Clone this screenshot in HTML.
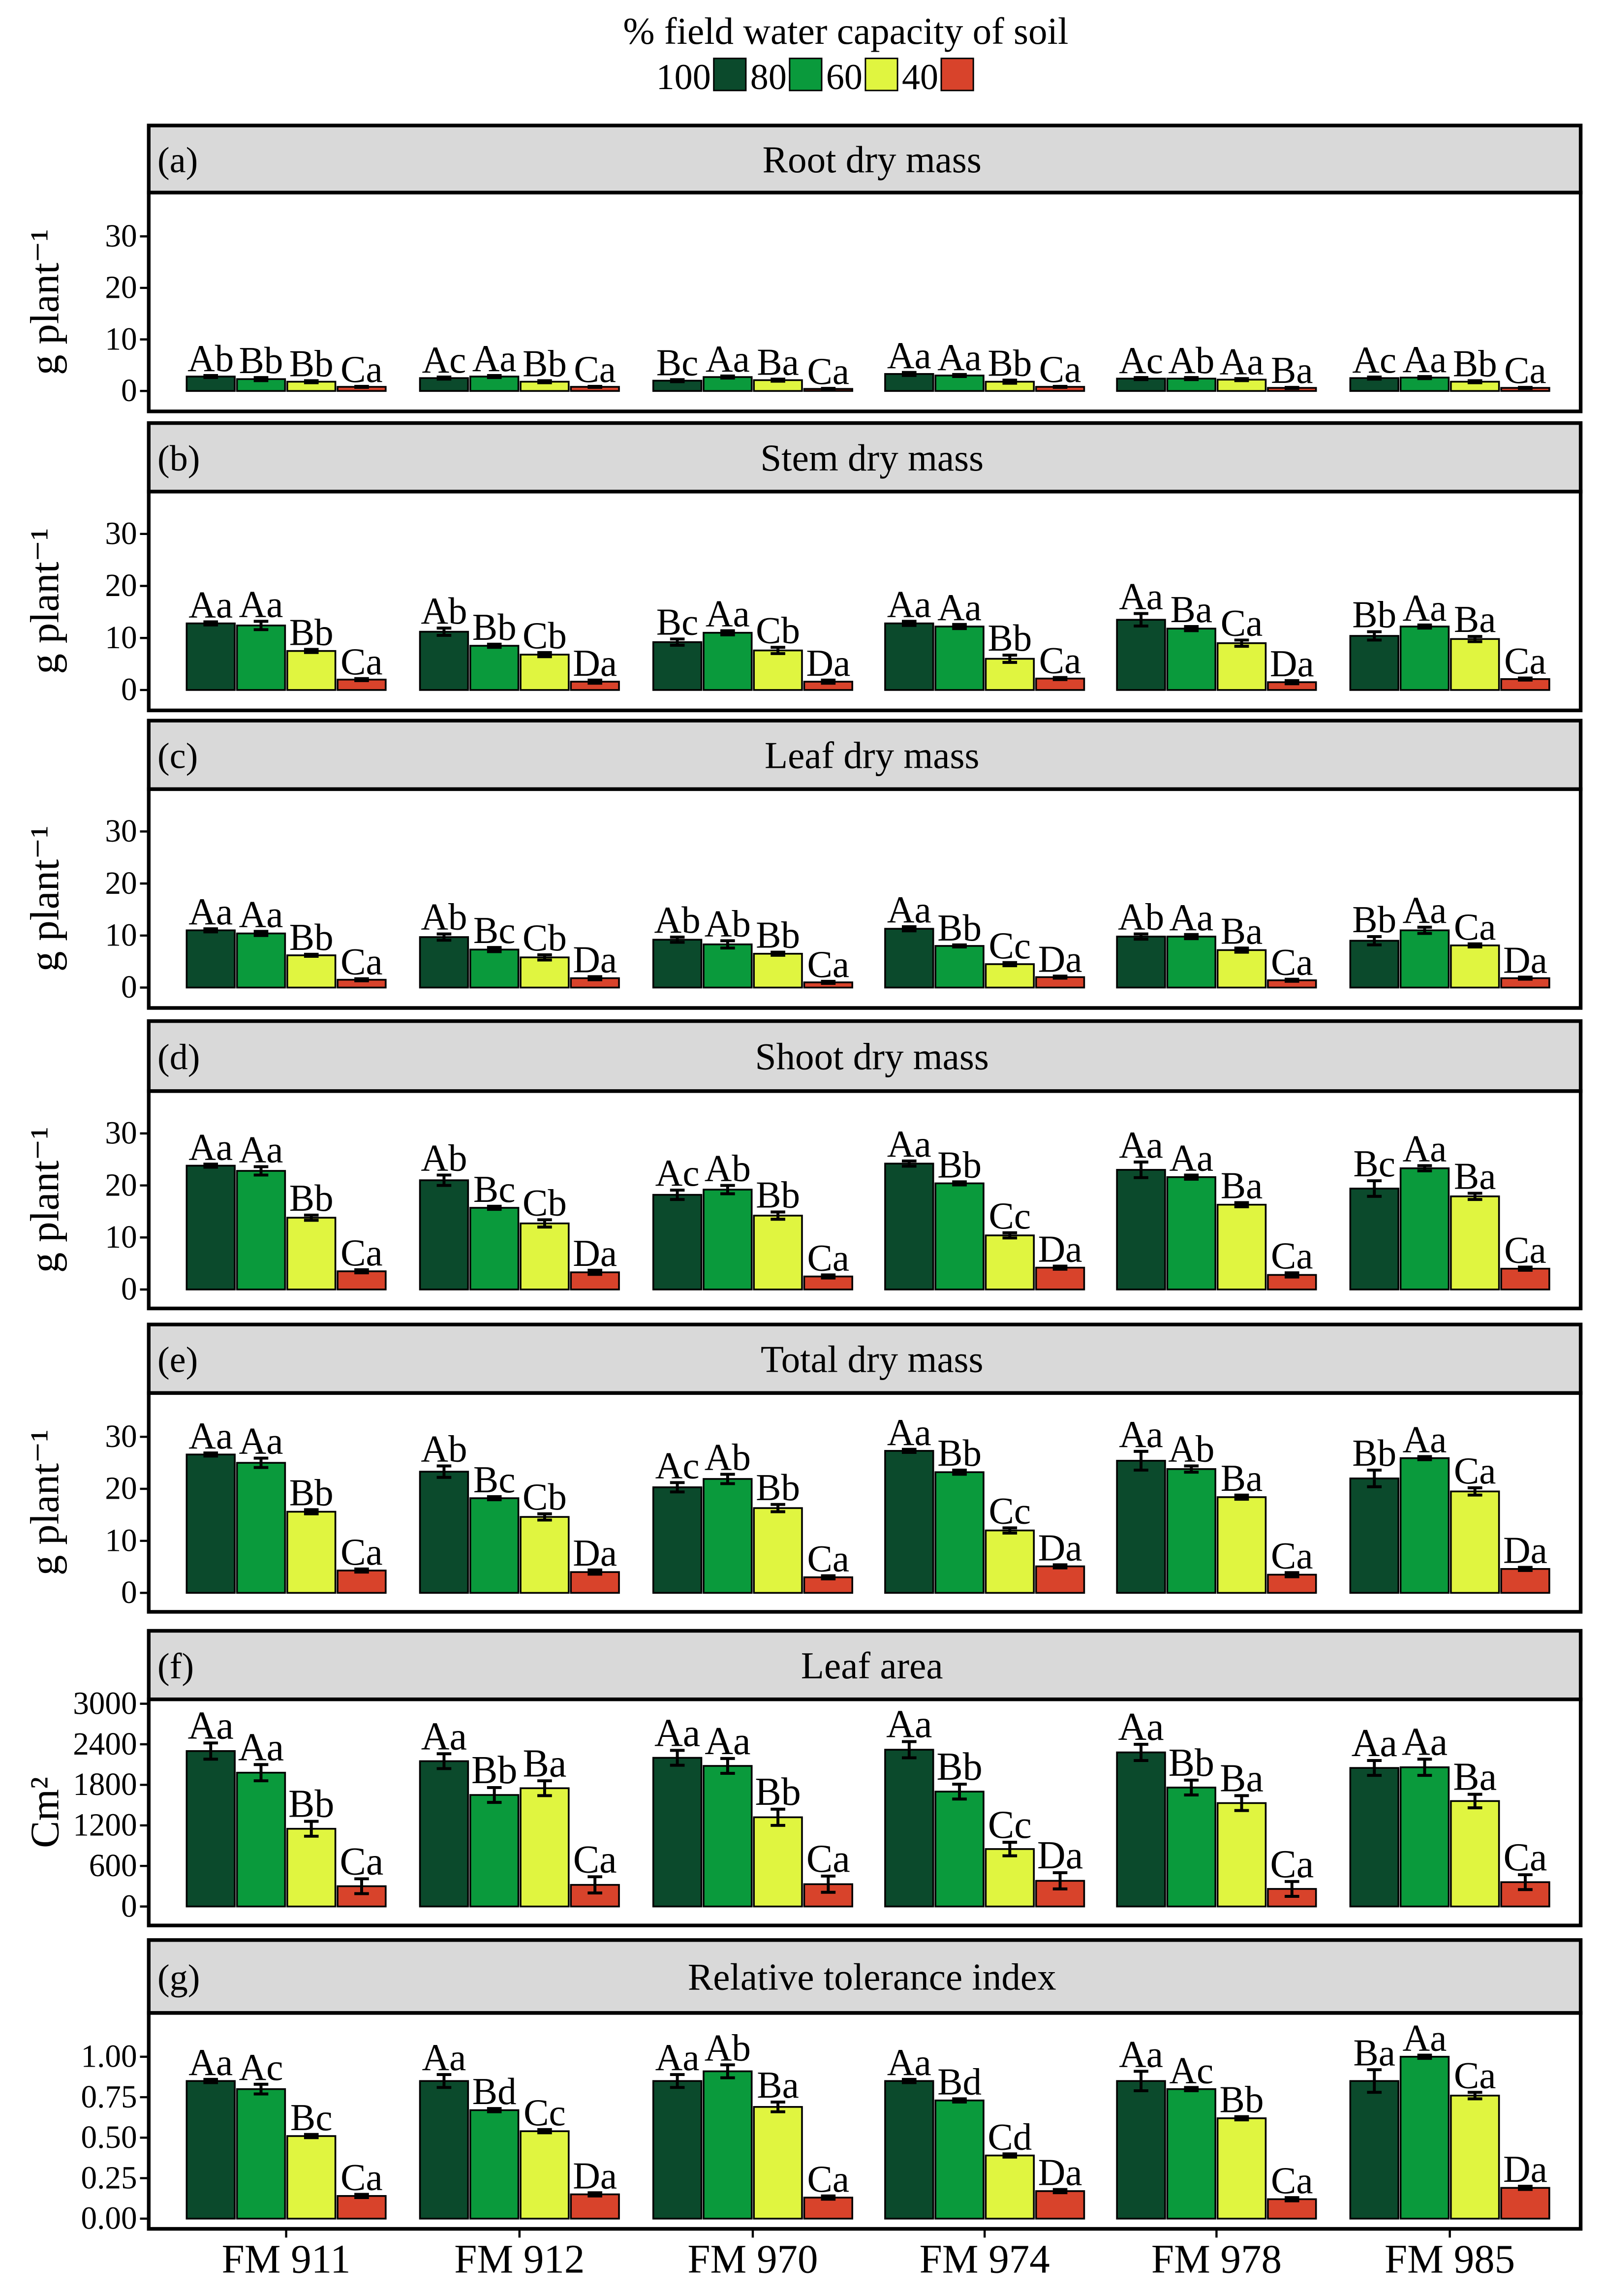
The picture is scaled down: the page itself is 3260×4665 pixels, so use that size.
<!DOCTYPE html>
<html><head><meta charset="utf-8"><style>
html,body{margin:0;padding:0;background:#fff;}
svg{display:block;font-family:"Liberation Serif","DejaVu Serif",serif;}
</style></head><body>
<svg id="chart" xmlns="http://www.w3.org/2000/svg" width="3260" height="4665" viewBox="0 0 1100 1574">
<rect x="0" y="0" width="1100" height="1574" fill="#fff"/>
<g id="legend">
<text x="580" y="30" font-size="26" text-anchor="middle">% field water capacity of soil</text>
</g>
<g id="plots"></g>
</svg>
<script>
const categories = ["FM 911","FM 912","FM 970","FM 974","FM 978","FM 985"];
const treatments = ["100","80","60","40"];
const colors = ["#0b4a2c","#0a9a3c","#e0f540","#d8432b"];
const panelTitles = ["Root dry mass","Stem dry mass","Leaf dry mass","Shoot dry mass","Total dry mass","Leaf area","Relative tolerance index"];
const panelTags = ["(a)","(b)","(c)","(d)","(e)","(f)","(g)"];
const rootVals = [[2.8,2.3,1.8,0.8],[2.5,2.8,1.8,0.8],[2.0,2.7,2.1,0.4],[3.3,3.0,1.8,0.8],[2.4,2.4,2.2,0.6],[2.5,2.6,1.8,0.6]];
const rootErr = [[0.2,0.3,0.2,0.1],[0.2,0.2,0.2,0.1],[0.2,0.2,0.2,0.1],[0.3,0.2,0.3,0.1],[0.2,0.2,0.2,0.1],[0.2,0.2,0.2,0.1]];
const rootLbl = [["Ab","Bb","Bb","Ca"],["Ac","Aa","Bb","Ca"],["Bc","Aa","Ba","Ca"],["Aa","Aa","Bb","Ca"],["Ac","Ab","Aa","Ba"],["Ac","Aa","Bb","Ca"]];
const stemVals = [[12.8,12.4,7.5,2.0],[11.2,8.5,6.8,1.6],[9.2,11.0,7.6,1.6],[12.8,12.2,6.0,2.2],[13.5,11.8,9.0,1.5],[10.4,12.2,9.8,2.1]];
const stemErr = [[0.3,0.8,0.3,0.2],[0.7,0.3,0.4,0.3],[0.6,0.4,0.6,0.3],[0.4,0.4,0.7,0.2],[1.2,0.4,0.6,0.3],[0.8,0.3,0.5,0.2]];
const stemLbl = [["Aa","Aa","Bb","Ca"],["Ab","Bb","Cb","Da"],["Bc","Aa","Cb","Da"],["Aa","Aa","Bb","Ca"],["Aa","Ba","Ca","Da"],["Bb","Aa","Ba","Ca"]];
const leafVals = [[11.0,10.4,6.2,1.5],[9.7,7.3,5.8,1.8],[9.2,8.3,6.5,1.0],[11.3,8.0,4.5,2.0],[9.8,9.8,7.2,1.4],[9.0,11.0,8.1,1.8]];
const leafErr = [[0.3,0.4,0.2,0.2],[0.6,0.4,0.5,0.3],[0.5,0.7,0.3,0.2],[0.4,0.2,0.3,0.2],[0.5,0.4,0.4,0.2],[0.8,0.6,0.3,0.2]];
const leafLbl = [["Aa","Aa","Bb","Ca"],["Ab","Bc","Cb","Da"],["Ab","Ab","Bb","Ca"],["Aa","Bb","Cc","Da"],["Ab","Aa","Ba","Ca"],["Bb","Aa","Ca","Da"]];
const shootVals = [[23.8,22.8,13.8,3.5],[21.0,15.7,12.7,3.3],[18.2,19.2,14.2,2.5],[24.2,20.4,10.4,4.2],[23.0,21.6,16.3,2.8],[19.4,23.3,17.9,4.0]];
const shootErr = [[0.3,0.8,0.5,0.3],[1.0,0.3,0.7,0.4],[0.9,0.8,0.7,0.3],[0.5,0.3,0.5,0.3],[1.5,0.4,0.4,0.4],[1.5,0.5,0.6,0.3]];
const shootLbl = [["Aa","Aa","Bb","Ca"],["Ab","Bc","Cb","Da"],["Ac","Ab","Bb","Ca"],["Aa","Bb","Cc","Da"],["Aa","Aa","Ba","Ca"],["Bc","Aa","Ba","Ca"]];
const totalVals = [[26.6,25.0,15.6,4.3],[23.3,18.2,14.6,4.0],[20.3,21.9,16.3,3.0],[27.3,23.2,12.0,5.1],[25.4,23.8,18.4,3.5],[22.0,25.9,19.5,4.6]];
const totalErr = [[0.3,0.9,0.4,0.3],[1.1,0.3,0.6,0.4],[0.9,0.9,0.7,0.3],[0.3,0.4,0.5,0.3],[1.8,0.6,0.4,0.4],[1.6,0.3,0.7,0.3]];
const totalLbl = [["Aa","Aa","Bb","Ca"],["Ab","Bc","Cb","Da"],["Ac","Ab","Bb","Ca"],["Aa","Bb","Cc","Da"],["Aa","Ab","Ba","Ca"],["Bb","Aa","Ca","Da"]];
const areaVals = [[2300,1980,1150,300],[2150,1650,1750,320],[2200,2080,1320,330],[2320,1700,850,380],[2280,1760,1530,260],[2050,2060,1560,360]];
const areaErr = [[120,120,110,110],[110,110,110,120],[110,110,120,120],[120,110,100,120],[120,110,110,110],[110,120,100,110]];
const areaLbl = [["Aa","Aa","Bb","Ca"],["Aa","Bb","Ba","Ca"],["Aa","Aa","Bb","Ca"],["Aa","Bb","Cc","Da"],["Aa","Bb","Ba","Ca"],["Aa","Aa","Ba","Ca"]];
const rtiVals = [[0.85,0.80,0.51,0.14],[0.85,0.67,0.54,0.15],[0.85,0.91,0.69,0.13],[0.85,0.73,0.39,0.17],[0.85,0.80,0.62,0.12],[0.85,1.00,0.76,0.19]];
const rtiErr = [[0.01,0.03,0.01,0.01],[0.04,0.01,0.01,0.01],[0.04,0.04,0.03,0.01],[0.01,0.01,0.01,0.01],[0.06,0.01,0.01,0.01],[0.07,0.01,0.02,0.01]];
const rtiLbl = [["Aa","Ac","Bc","Ca"],["Aa","Bd","Cc","Da"],["Aa","Ab","Ba","Ca"],["Aa","Bd","Cd","Da"],["Aa","Ac","Bb","Ca"],["Ba","Aa","Ca","Da"]];
const massTicks = [0,10,20,30];
const areaTicks = [0,600,1200,1800,2400,3000];
const rtiTicks = [0,0.25,0.5,0.75,1.0];
const rtiTickLabels = ["0.00","0.25","0.50","0.75","1.00"];

const NS = "http://www.w3.org/2000/svg";
function mk(tag, attrs, parent){const e=document.createElementNS(NS,tag);for(const k in attrs)e.setAttribute(k,attrs[k]);parent.appendChild(e);return e;}
const plots=document.getElementById('plots');
const legend=document.getElementById('legend');

let lx=450;
for(let i=0;i<4;i++){
  const t=mk('text',{x:lx,y:61,'font-size':25},legend);t.textContent=treatments[i];
  
  
  const w=treatments[i].length*12.5;
  const r=mk('rect',{x:lx+w+2,y:40,width:22,height:22,fill:colors[i],stroke:'#000','stroke-width':1},legend);
  
  
  lx+=w+27;
}

const L=102,R=1084;
const groupStart=[128,288,448,607,766,926];
const barW=33,barStep=34.5;
const panels=[
 {st:86,sb:132,pb:282,y0:268,yt:162,max:30,vals:rootVals,err:rootErr,lbl:rootLbl,ticks:massTicks,tl:null,yt_:"g plant⁻¹",fs:26},
 {st:290,sb:337,pb:487,y0:473,yt:366,max:30,vals:stemVals,err:stemErr,lbl:stemLbl,ticks:massTicks,tl:null,yt_:"g plant⁻¹",fs:26},
 {st:494,sb:541,pb:691,y0:677,yt:570,max:30,vals:leafVals,err:leafErr,lbl:leafLbl,ticks:massTicks,tl:null,yt_:"g plant⁻¹",fs:26},
 {st:700,sb:748,pb:897,y0:884,yt:777,max:30,vals:shootVals,err:shootErr,lbl:shootLbl,ticks:massTicks,tl:null,yt_:"g plant⁻¹",fs:26},
 {st:908,sb:955,pb:1105,y0:1092,yt:985,max:30,vals:totalVals,err:totalErr,lbl:totalLbl,ticks:massTicks,tl:null,yt_:"g plant⁻¹",fs:26},
 {st:1118,sb:1165,pb:1320,y0:1307,yt:1168,max:3000,vals:areaVals,err:areaErr,lbl:areaLbl,ticks:areaTicks,tl:null,yt_:"Cm²",fs:27},
 {st:1330,sb:1380,pb:1528,y0:1521,yt:1410,max:1.0,vals:rtiVals,err:rtiErr,lbl:rtiLbl,ticks:rtiTicks,tl:rtiTickLabels,yt_:"",fs:26}
];
panels.forEach((p,pi)=>{
  const g=mk('g',{},plots);
  
  
  const y=v=>p.y0-(v/p.max)*(p.y0-p.yt);
  const strip=mk('rect',{x:L,y:p.st,width:R-L,height:p.sb-p.st,fill:'#d9d9d9',stroke:'#000','stroke-width':2.5},g);
  
  
  const tag=mk('text',{x:L+6,y:(p.st+p.sb)/2+9,'font-size':25},g);tag.textContent=panelTags[pi];
  
  
  const tt=mk('text',{x:598,y:(p.st+p.sb)/2+9,'font-size':26,'text-anchor':'middle'},g);tt.textContent=panelTitles[pi];
  
  
  const box=mk('rect',{x:L,y:p.sb,width:R-L,height:p.pb-p.sb,fill:'#fff',stroke:'#000','stroke-width':2.5},g);
  
  
  p.ticks.forEach((tv,ti)=>{
    const ty=y(tv);
    const tk=mk('line',{x1:L-6,x2:L,y1:ty,y2:ty,stroke:'#000','stroke-width':1.5},g);
    
    
    const tl=mk('text',{x:L-8,y:ty+7,'font-size':22,'text-anchor':'end'},g);
    tl.textContent=p.tl?p.tl[ti]:String(tv);
    
    
  });
  if(p.yt_){
    const cy=(p.sb+p.pb)/2;
    const yl=mk('text',{x:40,y:cy,'font-size':28,'text-anchor':'middle',transform:'rotate(-90 40 '+cy+')'},g);
    yl.textContent=p.yt_;
    
    
  }
  p.vals.forEach((grp,gi)=>{
    grp.forEach((v,bi)=>{
      const bx=groupStart[gi]+bi*barStep;
      const by=y(v);
      const b=mk('rect',{x:bx,y:by,width:barW,height:p.y0-by,fill:colors[bi],stroke:'#000','stroke-width':1.2},g);
      
      
      const e=p.err[gi][bi];
      const cx=bx+barW/2, et=y(v+e), eb=y(v-e);
      const eg=mk('path',{d:`M${cx-5},${et}H${cx+5}M${cx},${et}V${eb}M${cx-5},${eb}H${cx+5}`,stroke:'#000','stroke-width':2,fill:'none'},g);
      
      
      const lt=mk('text',{x:cx,y:et-3,'font-size':p.fs,'text-anchor':'middle'},g);
      lt.textContent=p.lbl[gi][bi];
      
      
    });
  });
  if(pi===panels.length-1){
    categories.forEach((c,gi)=>{
      const cx=groupStart[gi]+(3*barStep+barW)/2;
      const xt=mk('line',{x1:cx,x2:cx,y1:p.pb,y2:p.pb+6,stroke:'#000','stroke-width':1.5},g);
      
      
      const xl=mk('text',{x:cx,y:p.pb+30,'font-size':28,'text-anchor':'middle'},g);
      xl.textContent=c;
      
      
    });
  }
});
</script>
</body></html>
